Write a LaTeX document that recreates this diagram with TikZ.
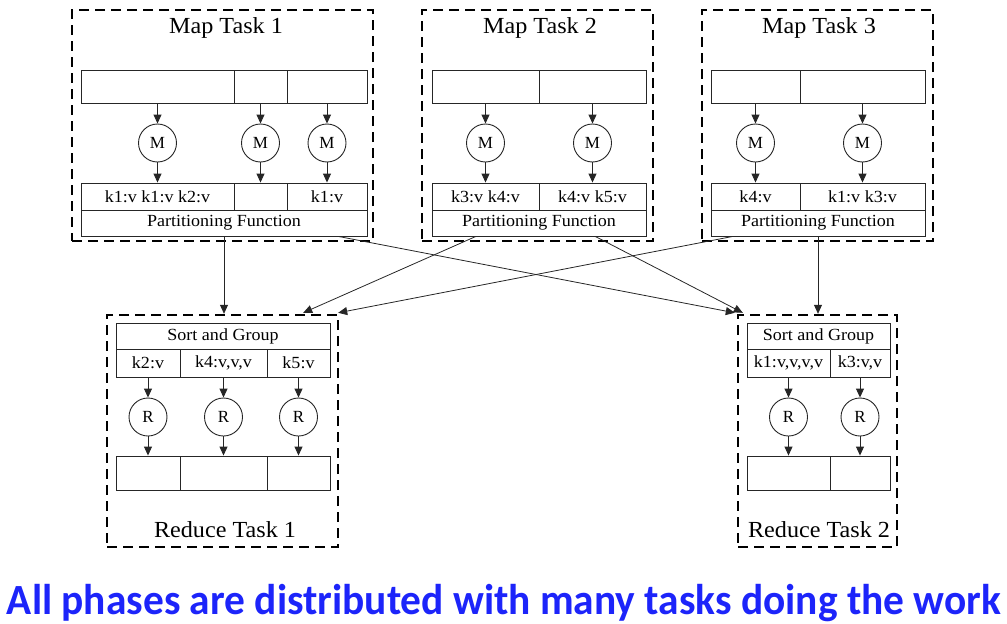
\documentclass[tikz,border=0pt]{standalone}
\usepackage{fontspec}
\setmainfont{Liberation Serif}
\newfontfamily\captionfont{Carlito}
\usetikzlibrary{arrows.meta,calc,positioning}
\definecolor{capblue}{RGB}{28,36,250}
\begin{document}
\begin{tikzpicture}[x=1pt,y=-1pt,
  cell/.style={draw=black!85,line width=0.9pt,inner sep=0pt,minimum height=#1},
  cell/.default=33,
  lbl/.style={font=\fontsize{17}{18}\selectfont,xscale=1.06},
  worker/.style={circle,draw=black!85,line width=0.9pt,minimum size=38pt,inner sep=0pt,font=\fontsize{17}{17}\selectfont},
  task/.style={draw=black,line width=2.4pt,dash pattern=on 10pt off 6pt,inner sep=0pt},
  title/.style={font=\fontsize{23}{24}\selectfont,xscale=1.05},
  arr/.style={draw=black!85,line width=0.9pt,-{Triangle[length=9pt,width=8pt]}},
  link/.style={draw=black!85,line width=0.8pt,-{Triangle[length=9pt,width=8pt]}}]
\useasboundingbox (0,0) rectangle (1007,624);

% helper: cell spanning x1..x2, y1..y2
\def\mkcell#1#2#3#4#5#6{\node[cell=#5-#4,minimum width=#3-#2,#6] (#1) at ({(#2+#3)/2},{(#4+#5)/2}) {};}

% ---------------- task frames ----------------
\node[task,minimum width=301pt,minimum height=231pt] (mt1) at (222.5,125.5) {};
\node[task,minimum width=231pt,minimum height=231pt] (mt2) at (537.5,125.5) {};
\node[task,minimum width=231pt,minimum height=231pt] (mt3) at (817.5,125.5) {};
\node[task,minimum width=231pt,minimum height=232pt] (rt1) at (222.5,431) {};
\node[task,minimum width=159pt,minimum height=232pt] (rt2) at (817.5,431) {};

\node[title] (mt1t) at (226,28) {Map Task 1};
\node[title] (mt2t) at (540,28) {Map Task 2};
\node[title] (mt3t) at (819,28) {Map Task 3};
\node[title] (rt1t) at (225,530) {Reduce Task 1};
\node[title] (rt2t) at (819,530) {Reduce Task 2};

% ---------------- map task 1 ----------------
\mkcell{a1i1}{81}{234}{70}{103}{}
\mkcell{a1i2}{234}{287}{70}{103}{}
\mkcell{a1i3}{287}{367}{70}{103}{}
\mkcell{a1o1}{81}{234}{183}{210}{}
\mkcell{a1o2}{234}{287}{183}{210}{}
\mkcell{a1o3}{287}{367}{183}{210}{}
\mkcell{p1}{81}{367}{210}{236}{}
\node[lbl] at (a1o1) {k1:v k1:v k2:v};
\node[lbl] at (a1o3) {k1:v};
\node[lbl] at (p1) {Partitioning Function};
\foreach \i in {1,2,3} {
  \node[worker] (m1\i) at (a1i\i |- 0,143) {M};
  \draw[arr] (a1i\i.south) -- (m1\i.north);
  \draw[arr] (m1\i.south) -- (a1o\i.north);
}

% ---------------- map task 2 ----------------
\mkcell{a2i1}{432}{539}{70}{103}{}
\mkcell{a2i2}{539}{646}{70}{103}{}
\mkcell{a2o1}{432}{539}{183}{210}{}
\mkcell{a2o2}{539}{646}{183}{210}{}
\mkcell{p2}{432}{646}{210}{236}{}
\node[lbl] at (a2o1) {k3:v k4:v};
\node[lbl] at (a2o2) {k4:v k5:v};
\node[lbl] at (p2) {Partitioning Function};
\foreach \i in {1,2} {
  \node[worker] (m2\i) at (a2i\i |- 0,143) {M};
  \draw[arr] (a2i\i.south) -- (m2\i.north);
  \draw[arr] (m2\i.south) -- (a2o\i.north);
}

% ---------------- map task 3 ----------------
\mkcell{a3i1}{711}{800}{70}{103}{}
\mkcell{a3i2}{800}{925}{70}{103}{}
\mkcell{a3o1}{711}{800}{183}{210}{}
\mkcell{a3o2}{800}{925}{183}{210}{}
\mkcell{p3}{711}{925}{210}{236}{}
\node[lbl] at (a3o1) {k4:v};
\node[lbl] at (a3o2) {k1:v k3:v};
\node[lbl] at (p3) {Partitioning Function};
\foreach \i in {1,2} {
  \node[worker] (m3\i) at (a3i\i |- 0,143) {M};
  \draw[arr] (a3i\i.south) -- (m3\i.north);
  \draw[arr] (m3\i.south) -- (a3o\i.north);
}

% ---------------- reduce task 1 ----------------
\mkcell{s1}{116}{330}{323}{349}{}
\mkcell{b1k1}{116}{180}{349}{377}{}
\mkcell{b1k2}{180}{267}{349}{377}{}
\mkcell{b1k3}{267}{330}{349}{377}{}
\mkcell{b1o1}{116}{180}{456}{490}{}
\mkcell{b1o2}{180}{267}{456}{490}{}
\mkcell{b1o3}{267}{330}{456}{490}{}
\node[lbl] at (s1) {Sort and Group};
\node[lbl] at (b1k1) {k2:v};
\node[lbl] at (b1k2) {k4:v,v,v};
\node[lbl] at (b1k3) {k5:v};
\foreach \i in {1,2,3} {
  \node[worker] (r1\i) at (b1k\i |- 0,417) {R};
  \draw[arr] (b1k\i.south) -- (r1\i.north);
  \draw[arr] (r1\i.south) -- (b1o\i.north);
}

% ---------------- reduce task 2 ----------------
\mkcell{s2}{747}{890}{323}{349}{}
\mkcell{b2k1}{747}{830}{349}{377}{}
\mkcell{b2k2}{830}{890}{349}{377}{}
\mkcell{b2o1}{747}{830}{456}{490}{}
\mkcell{b2o2}{830}{890}{456}{490}{}
\node[lbl] at (s2) {Sort and Group};
\node[lbl] at (b2k1) {k1:v,v,v,v};
\node[lbl] at (b2k2) {k3:v,v};
\foreach \i in {1,2} {
  \node[worker] (r2\i) at (b2k\i |- 0,417) {R};
  \draw[arr] (b2k\i.south) -- (r2\i.north);
  \draw[arr] (r2\i.south) -- (b2o\i.north);
}

% ---------------- shuffle connectors ----------------
\coordinate (p1a) at ($(p1.south west)!0.899!(p1.south east)$);
\coordinate (p2a) at ($(p2.south west)!0.206!(p2.south east)$);
\coordinate (p2b) at ($(p2.south west)!0.762!(p2.south east)$);
\coordinate (p3a) at ($(p3.south west)!0.103!(p3.south east)$);
\coordinate (r1a) at ($(rt1.north east)+(-36,-1)$);
\coordinate (r1b) at ($(rt1.north east)+(-1,-1)$);
\coordinate (r2a) at ($(rt2.north west)+(-2,-1)$);
\coordinate (r2b) at ($(rt2.north west)+(6,-1)$);

\draw[link] (p1.south) -- (p1.south |- rt1.north);
\draw[link] (p1a) -- (r2a);
\draw[link] (p2a) -- (r1a);
\draw[link] (p2b) -- (r2b);
\draw[link] (p3a) -- (r1b);
\draw[link] (p3.south) -- (p3.south |- rt2.north);

% ---------------- caption ----------------
\node[font=\captionfont\bfseries\fontsize{41}{44}\selectfont,text=capblue,anchor=base,xscale=1.01,yscale=1.05] (cap) at (504,614) {All phases are distributed with many tasks doing the work};
\end{tikzpicture}
\end{document}
